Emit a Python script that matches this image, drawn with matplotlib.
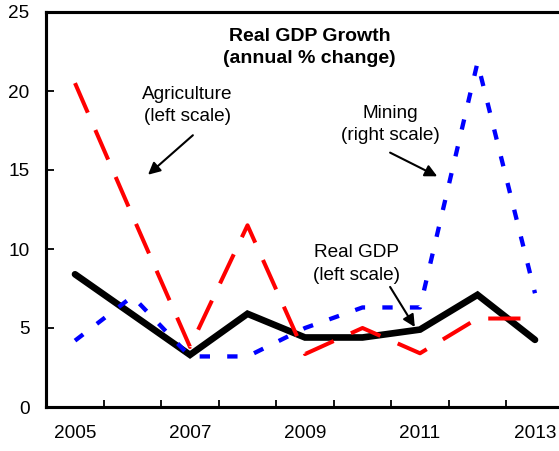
import matplotlib.pyplot as plt
from matplotlib.ticker import MultipleLocator

plt.rcParams['font.family'] = ['Liberation Sans', 'DejaVu Sans']

years = [2005, 2006, 2007, 2008, 2009, 2010, 2011, 2012, 2013]
real_gdp = [8.4, 5.85, 3.3, 5.9, 4.4, 4.4, 4.9, 7.1, 4.25]
agriculture = [20.5, 12.1, 3.8, 11.5, 3.35, 5.0, 3.4, 5.6, 5.6]
mining = [-1.6, 4.0, -3.6, -3.6, 0.0, 2.6, 2.6, 33.6, 4.4]  # right scale

label_years = [2005, 2007, 2009, 2011, 2013]

fig = plt.figure(figsize=(5.59, 4.51), dpi=100)
ax = fig.add_axes([46.25 / 559, 1 - 407 / 451, (563.75 - 46.25) / 559, (407 - 12) / 451])

ax.plot(years, real_gdp, color='black', lw=4.8, solid_capstyle='round', solid_joinstyle='miter', zorder=3)
ax.plot(years, agriculture, color='#ff0000', lw=2.9, dashes=(8, 4.7), zorder=4)

ax.set_xlim(2004.5, 2013.5)
ax.set_ylim(0, 25)
ax.yaxis.set_major_locator(MultipleLocator(5))
ax.set_xticks([y + 0.5 for y in years[:-1]])
ax.set_xticklabels([])
ax.set_xticks(label_years, minor=True)
ax.set_xticklabels([str(y) for y in label_years], minor=True)
ax.tick_params(axis='x', which='major', direction='in', length=5, width=1.3)
ax.tick_params(axis='x', which='minor', length=0, pad=13, labelsize=13.7)
ax.tick_params(axis='y', direction='in', length=6, width=1.3, pad=12, labelsize=13.7)
for s in ax.spines.values():
    s.set_linewidth(2.2)

ax2 = ax.twinx()
ax2.plot(years, mining, color='#0000ff', lw=3.1, dashes=(2.4, 4.0), zorder=3)
ax2.set_ylim(-10, 40)
ax2.yaxis.set_major_locator(MultipleLocator(5))
ax2.tick_params(axis='y', direction='in', length=3, width=1.0, labelright=False)
for s in ax2.spines.values():
    s.set_linewidth(2.2)

ax.text(2009.08, 22.75, 'Real GDP Growth\n(annual % change)', ha='center', va='center',
        fontsize=14, fontweight='bold', linespacing=1.45)

notes = [
    ('Agriculture\n(left scale)', (2006.96, 19.1), (2007.05, 17.2), (2006.27, 14.7)),
    ('Mining\n(right scale)', (2010.48, 17.9), (2010.48, 16.1), (2011.3, 14.6)),
    ('Real GDP\n(left scale)', (2009.9, 9.05), (2010.48, 7.6), (2010.91, 5.06)),
]
for label, pos, tail, head in notes:
    ax2.text(pos[0], pos[1] * 2 - 10, label, ha='center', va='center', fontsize=13.7, linespacing=1.4)
    ax2.annotate('', xy=(head[0], head[1] * 2 - 10), xytext=(tail[0], tail[1] * 2 - 10),
                 arrowprops=dict(arrowstyle='-|>', color='black', lw=1.5, mutation_scale=18,
                                 shrinkA=0, shrinkB=0))

fig.savefig('out.png', dpi=100)
